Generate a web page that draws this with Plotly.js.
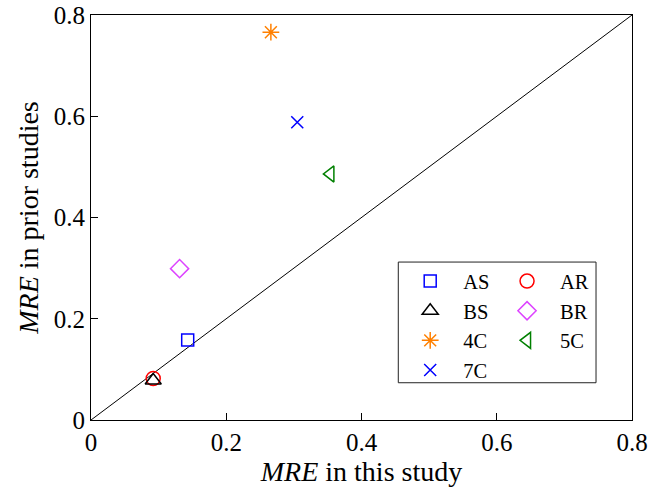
<!DOCTYPE html>
<html>
<head>
<meta charset="utf-8">
<script src="https://cdn.plot.ly/plotly-3.0.1.min.js"></script>
<style>html,body{margin:0;padding:0;background:#fff;}#chart{width:649px;height:494px;}</style>
</head>
<body>
<div id="chart"></div>
<script>
// Data
const seriesNames = ["AS", "AR", "BS", "BR", "4C", "5C", "7C"];
const thisStudy   = [0.143, 0.092, 0.092, 0.131, 0.266, 0.354, 0.305];
const priorStudies= [0.158, 0.082, 0.078, 0.299, 0.766, 0.486, 0.588];
const symbols     = ["square-open", "circle-open", "triangle-up-open", "diamond-open", "asterisk-open", "triangle-left-open", "x-thin-open"];
const colors      = ["#0000ff", "#ff0000", "#000000", "#dd44ff", "#ff8000", "#008000", "#0000ff"];
const sizes       = [12, 14, 14, 14, 14, 14, 12];
const legendOf    = ["legend", "legend2", "legend", "legend2", "legend", "legend2", "legend"];
const diagX = [0, 0.8];
const diagY = [0, 0.8];
const tickVals = [0, 0.2, 0.4, 0.6, 0.8];
const tickText = ["0", "0.2", "0.4", "0.6", "0.8"];

const FONT = "Liberation Serif, Times New Roman, serif";

const traces = [{
  x: diagX, y: diagY, mode: "lines", type: "scatter",
  line: {color: "#000", width: 1}, showlegend: false, hoverinfo: "skip"
}];
seriesNames.forEach((n, i) => {
  traces.push({
    x: [thisStudy[i]], y: [priorStudies[i]], name: n,
    type: "scatter", mode: "markers", legend: legendOf[i],
    marker: {symbol: symbols[i], size: sizes[i], color: colors[i],
             line: {color: colors[i], width: 1.5}}
  });
});

const axisCommon = {
  range: [0, 0.8], tickvals: tickVals, ticktext: tickText,
  showline: true, linecolor: "#000", linewidth: 1, mirror: true,
  ticks: "inside", ticklen: 7, tickwidth: 1, tickcolor: "#000",
  showgrid: false, zeroline: false,
  tickfont: {family: FONT, size: 25, color: "#000"}
};

const legendCommon = {
  orientation: "v", bgcolor: "rgba(0,0,0,0)", borderwidth: 0,
  font: {family: FONT, size: 20.5, color: "#000"},
  itemwidth: 56, yanchor: "top", xanchor: "left", traceorder: "normal",
  tracegroupgap: 0
};

const layout = {
  width: 649, height: 494,
  margin: {l: 90.5, r: 17, t: 14.5, b: 73.5},
  paper_bgcolor: "#fff", plot_bgcolor: "#fff",
  showlegend: true,
  xaxis: Object.assign({}, axisCommon, {
    title: {text: "<i>MRE</i> in this study", font: {family: FONT, size: 28, color: "#000"}, standoff: 4}
  }),
  yaxis: Object.assign({}, axisCommon, {
    title: {text: "<i>MRE</i> in prior studies", font: {family: FONT, size: 28, color: "#000"}, standoff: 6}
  }),
  legend: Object.assign({}, legendCommon, {x: 0.566, y: 0.392}),
  legend2: Object.assign({}, legendCommon, {x: 0.745, y: 0.392}),
  shapes: [{
    type: "rect", xref: "paper", yref: "paper",
    x0: 0.568, x1: 0.9335, y0: 0.092, y1: 0.390,
    line: {color: "#222", width: 1}, fillcolor: "rgba(0,0,0,0)", layer: "above"
  }]
};

Plotly.newPlot("chart", traces, layout, {displayModeBar: false, staticPlot: true});
</script>
</body>
</html>
